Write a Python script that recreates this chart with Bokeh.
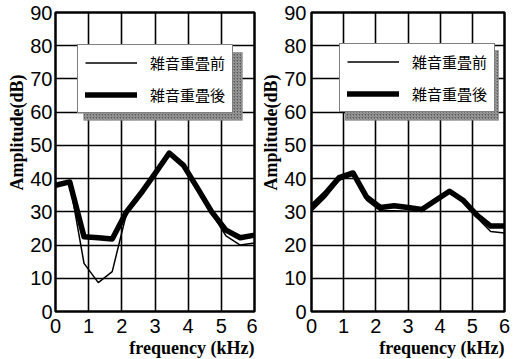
from bokeh.plotting import figure
from bokeh.layouts import row
from bokeh.models import Range1d, Legend, LegendItem, Title, BoxAnnotation, FixedTicker
from bokeh.embed import file_html
from bokeh.resources import INLINE

# ---- data ----
freq_khz = [0.0, 0.43, 0.86, 1.29, 1.71, 2.14, 2.57, 3.0, 3.43, 3.86, 4.29, 4.71, 5.14, 5.57, 6.0]

left_before = [37.8, 38.8, 14.5, 8.7, 12.0, 29.5, 35.5, 41.5, 47.5, 44.0, 36.7, 29.5, 22.8, 20.0, 20.6]
left_after = [38.0, 39.0, 22.5, 22.2, 21.8, 30.0, 35.5, 41.5, 47.7, 44.0, 37.0, 30.0, 24.5, 22.2, 23.0]

right_before = [30.2, 34.3, 39.5, 41.0, 33.5, 30.3, 30.3, 30.2, 30.2, 33.3, 35.8, 33.0, 28.3, 24.1, 23.6]
right_after = [31.5, 35.5, 40.3, 41.7, 34.5, 31.3, 31.8, 31.3, 30.7, 33.5, 36.2, 33.5, 29.0, 25.7, 25.7]

x_ticks = [0, 1, 2, 3, 4, 5, 6]
y_ticks = [0, 10, 20, 30, 40, 50, 60, 70, 80, 90]
legend_labels = ["雑音重畳前", "雑音重畳後"]
x_title = "frequency (kHz)"
y_title = "Amplitude(dB)"


def make_panel(before, after, width, b_left, b_right, legend_xy, shadow_box, ystand):
    p = figure(width=width, height=359, output_backend="svg", toolbar_location=None,
               x_range=Range1d(0, 6), y_range=Range1d(0, 90),
               min_border_left=b_left, min_border_right=b_right,
               min_border_top=12, min_border_bottom=48)
    p.background_fill_color = "white"
    p.border_fill_color = "white"
    p.outline_line_color = "black"
    p.outline_line_width = 2.5

    p.xaxis.ticker = FixedTicker(ticks=x_ticks)
    p.yaxis.ticker = FixedTicker(ticks=y_ticks)
    for ax in (p.xaxis[0], p.yaxis[0]):
        ax.axis_line_color = None
        ax.major_tick_line_color = None
        ax.minor_tick_line_color = None
        ax.major_tick_out = 0
        ax.major_tick_in = 0
        ax.major_label_text_font = "Liberation Sans"
        ax.major_label_text_font_size = "20px"
        ax.major_label_text_color = "#000000"
    p.xaxis[0].major_label_standoff = 7
    p.yaxis[0].major_label_standoff = ystand

    p.xgrid.ticker = FixedTicker(ticks=x_ticks)
    p.ygrid.ticker = FixedTicker(ticks=y_ticks)
    for g in (p.xgrid[0], p.ygrid[0]):
        g.grid_line_color = "black"
        g.grid_line_width = 1.6
        g.grid_line_alpha = 1.0

    r_after = p.line(freq_khz, after, line_color="black", line_width=5.5, line_join="round", line_cap="round")
    r_before = p.line(freq_khz, before, line_color="black", line_width=1.5)

    left, right, bottom, top = shadow_box
    shadow = BoxAnnotation(left=left, right=right, bottom=bottom, top=top,
                           fill_color="#5a5a5a", fill_alpha=1.0, line_color=None,
                           hatch_pattern="right_diagonal_line", hatch_color="#d0d0d0",
                           hatch_alpha=0.7, hatch_scale=3, hatch_weight=1)
    p.add_layout(shadow)

    leg = Legend(items=[LegendItem(label=legend_labels[0], renderers=[r_before]),
                        LegendItem(label=legend_labels[1], renderers=[r_after])],
                 location=legend_xy, orientation="vertical", margin=0, padding=7,
                 spacing=11, label_height=21, glyph_height=21, glyph_width=52,
                 label_standoff=13, label_text_font="Noto Sans CJK JP",
                 label_text_font_size="15px", label_text_color="#000000",
                 border_line_color="black", border_line_width=1.5,
                 background_fill_color="white", background_fill_alpha=1.0)
    p.add_layout(leg)

    p.add_layout(Title(text=y_title, align="right", offset=62, standoff=2,
                       text_font="Liberation Serif", text_font_style="bold",
                       text_font_size="18px", text_color="#000000"), "left")
    p.add_layout(Title(text=x_title, align="right", offset=0, standoff=0,
                       text_font="Liberation Serif", text_font_style="bold",
                       text_font_size="18px", text_color="#000000"), "below")
    return p


p_left = make_panel(left_before, left_after, 257, 55, 3, (22, 198),
                    (0.844, 5.64, 57.5, 78.0), 3)
p_right = make_panel(right_before, right_after, 257, 45, 10, (28, 199),
                     (1.04, 5.82, 57.5, 78.6), 5)

p = row(p_left, p_right)
open("out.html", "w").write(file_html(p, INLINE))
